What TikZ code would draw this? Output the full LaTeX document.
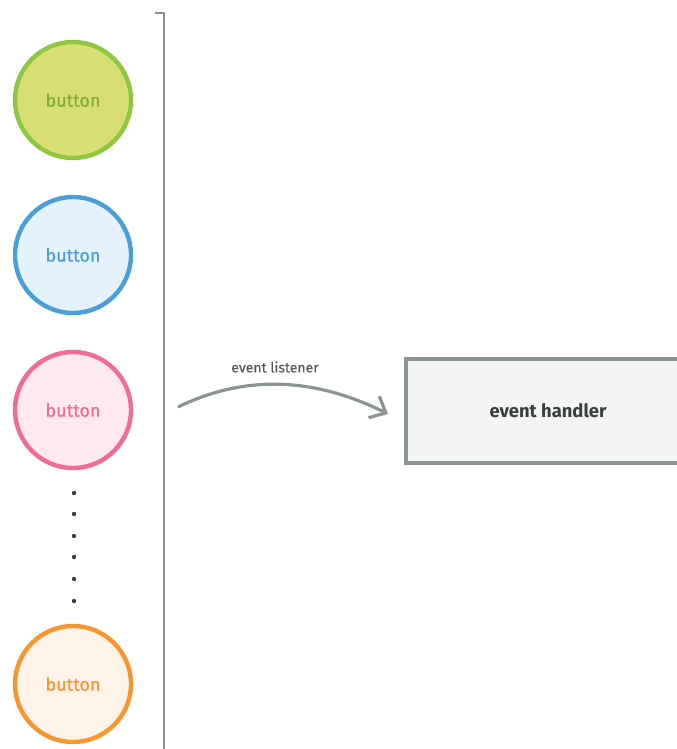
\documentclass[tikz,border=0pt]{standalone}
\usepackage{fontspec}
\setmainfont{Fira Sans}
\usetikzlibrary{arrows.meta}
\definecolor{lineg}{HTML}{8A9590}
\definecolor{gb}{HTML}{8DC63F}\definecolor{gf}{HTML}{D8DE72}\definecolor{gt}{HTML}{7FAE3B}
\definecolor{bb}{HTML}{4A9FD8}\definecolor{bf}{HTML}{E4F3FB}
\definecolor{pb}{HTML}{F06C94}\definecolor{pf}{HTML}{FDE9EF}
\definecolor{ob}{HTML}{F7962F}\definecolor{of}{HTML}{FDF3E9}
\definecolor{handlerfill}{HTML}{F3F5F4}
\definecolor{darktext}{HTML}{3A3F3D}
\tikzset{
  btn/.style={circle, line width=3.3pt, minimum size=87pt, inner sep=0pt, font=\fontsize{13.5pt}{15pt}\selectfont\addfontfeatures{FakeBold=0.9}},
  handler/.style={draw=lineg, fill=handlerfill, line width=3.5pt, inner sep=0pt},
  dotmark/.style={circle, fill=darktext, inner sep=0pt, minimum size=3.3pt},
}
\begin{document}
\begin{tikzpicture}[x=0.75pt,y=-0.75pt]
\useasboundingbox (0,0) rectangle (676,749);
% vertical rail
\coordinate (railtop) at (155,13);
\coordinate (railcorner) at (164,13);
\coordinate (railbot) at (164,752);
\draw[lineg, line width=2.2pt] (railtop) -- (railcorner) -- (railbot);
% buttons
\node[btn, draw=gb, fill=gf, text=gt] (b1) at (73,100) {button};
\node[btn, draw=bb, fill=bf, text=bb] (b2) at (73,255) {button};
\node[btn, draw=pb, fill=pf, text=pb] (b3) at (73,410) {button};
\node[btn, draw=ob, fill=of, text=ob] (b4) at (73,684) {button};
% dots
\foreach \y/\n in {493/1,514/2,536/3,557/4,579/5,601/6}
  \node[dotmark] (d\n) at (74,\y) {};
% handler box
\path[handler] (406,359) rectangle (690,463);
\node[font=\fontsize{13.8pt}{15pt}\selectfont\bfseries, text=darktext] (eh) at (548,411) {event handler};
% arrow
\coordinate (as) at (178,407);
\coordinate (ae) at (388,414);
\draw[lineg, line width=2.4pt, -{Straight Barb[length=10pt,width=18pt,line width=2.4pt]}]
  (as) .. controls (250,372) and (320,380) .. (ae);
\node[font=\fontsize{10.5pt}{12pt}\selectfont\addfontfeatures{FakeBold=0.6}, text=darktext!85] (el) at (275,367) {event listener};
\end{tikzpicture}
\end{document}
